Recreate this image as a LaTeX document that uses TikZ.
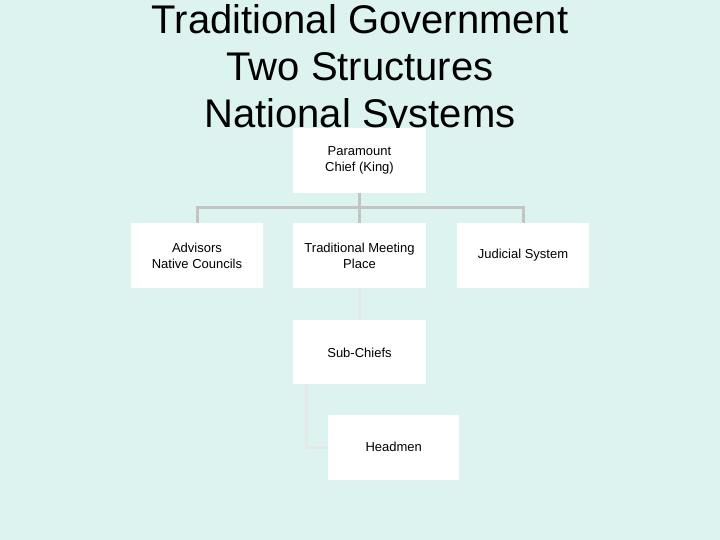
\documentclass[tikz,border=0pt]{standalone}
\usepackage{fontspec}
\setmainfont{Liberation Sans}
\definecolor{bgc}{HTML}{DDF3F0}
\definecolor{linec}{HTML}{C4C4C4}
\definecolor{linel}{HTML}{E4E8E8}
\begin{document}
\begin{tikzpicture}[x=1pt,y=-1pt,
  orgbox/.style={fill=white,draw=none,minimum width=133pt,minimum height=65pt,inner sep=0pt,align=center,font=\fontsize{13}{16}\selectfont},
  titletext/.style={anchor=base,inner sep=0pt,font=\fontsize{40}{46}\selectfont},
  conn/.style={draw=linec,line width=3pt},
  connl/.style={draw=linel,line width=3pt}]
\fill[bgc] (0,0) rectangle (720,540);
\useasboundingbox (0,0) rectangle (720,540);
\node[titletext] (t1) at (360,33.5) {Traditional Government};
\node[titletext] (t2) at (360,80.5) {Two Structures};
\node[titletext] (t3) at (360,128) {National Systems};
\node[orgbox] (P) at (359.5,160.5) {Paramount\\Chief (King)};
\node[orgbox,minimum width=132pt] (A) at (197,255.5) {Advisors\\Native Councils};
\node[orgbox] (T) at (359.5,255.5) {Traditional Meeting\\Place};
\node[orgbox,minimum width=132pt] (J) at (523,255.5) {Judicial System};
\coordinate (bus) at (359.5,208);
\coordinate (hs) at (306,384);
\draw[conn] (P.south) -- (bus);
\draw[conn] (A.north) |- (bus) -| (J.north);
\draw[conn] (T.north) -- (bus);
\draw[connl] (T.south) -- ++(0,32) coordinate (sn);
\draw[connl] (hs) |- ++(22,63) coordinate (hw);
\node[orgbox,minimum height=64pt,anchor=north] (S) at (sn) {Sub-Chiefs};
\node[orgbox,minimum width=131pt,anchor=west] (H) at (hw) {Headmen};
\end{tikzpicture}
\end{document}
